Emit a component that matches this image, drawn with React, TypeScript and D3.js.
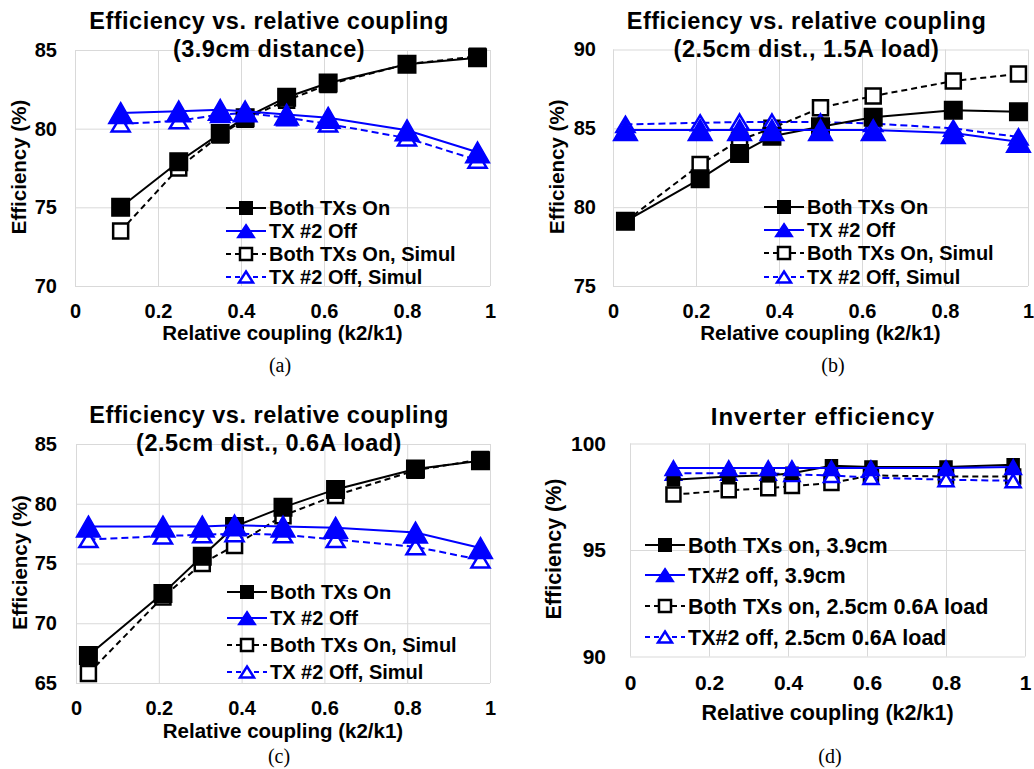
import React, { useEffect, useRef } from 'react';
import * as d3 from 'd3';

// relative coupling (k2/k1) of the measured points
const k39 = [0.11, 0.25, 0.35, 0.41, 0.51, 0.61, 0.8, 0.97];
const k25 = [0.03, 0.21, 0.305, 0.383, 0.5, 0.627, 0.82, 0.977];

// (a) 3.9cm distance
const aBothOn = [75.0, 77.9, 79.7, 80.7, 82.0, 82.9, 84.1, 84.5];
const aTx2Off = [81.0, 81.1, 81.2, 81.1, 80.9, 80.7, 79.9, 78.5];
const aBothOnSim = [73.5, 77.5, 79.6, 80.6, 81.8, 82.8, 84.1, 84.6];
const aTx2OffSim = [80.3, 80.5, 80.9, 81.0, 80.7, 80.3, 79.4, 78.0];

// (b) 2.5cm, 1.5A load
const bBothOn = [79.1, 81.8, 83.4, 84.5, 85.1, 85.7, 86.15, 86.05];
const bTx2Off = [84.9, 84.9, 84.9, 84.9, 84.9, 84.9, 84.7, 84.15];
const bBothOnSim = [79.1, 82.7, 84.25, 85.0, 86.3, 87.05, 88.0, 88.45];
const bTx2OffSim = [85.25, 85.35, 85.4, 85.4, 85.4, 85.3, 85.0, 84.45];

// (c) 2.5cm, 0.6A load
const cBothOn = [67.3, 72.5, 75.6, 78.1, 79.7, 81.2, 82.9, 83.6];
const cTx2Off = [78.1, 78.1, 78.1, 78.2, 78.1, 78.0, 77.6, 76.3];
const cBothOnSim = [65.8, 72.2, 75.0, 76.5, 79.0, 80.7, 82.8, 83.7];
const cTx2OffSim = [77.0, 77.3, 77.4, 77.5, 77.4, 77.0, 76.4, 75.3];

// (d) inverter efficiency
const dBothOn39 = [98.3, 98.45, 98.5, 98.6, 98.95, 98.9, 98.9, 99.0];
const dTx2Off39 = [98.85, 98.85, 98.85, 98.85, 98.85, 98.85, 98.85, 98.9];
const dBothOn25 = [97.6, 97.8, 97.9, 98.0, 98.15, 98.5, 98.45, 98.45];
const dTx2Off25 = [98.6, 98.6, 98.6, 98.55, 98.5, 98.4, 98.3, 98.25];

const xTicks = [0, 0.2, 0.4, 0.6, 0.8, 1];
const xTickLabels = ['0', '0.2', '0.4', '0.6', '0.8', '1'];
const aYTicks = [70, 75, 80, 85];
const bYTicks = [75, 80, 85, 90];
const cYTicks = [65, 70, 75, 80, 85];
const dYTicks = [90, 95, 100];

const titleA = ['Efficiency vs. relative coupling', '(3.9cm distance)'];
const titleB = ['Efficiency vs. relative coupling', '(2.5cm dist., 1.5A load)'];
const titleC = ['Efficiency vs. relative coupling', '(2.5cm dist., 0.6A load)'];
const titleD = ['Inverter efficiency'];
const legendMeasured = ['Both TXs On', 'TX #2 Off', 'Both TXs On, Simul', 'TX #2 Off, Simul'];
const legendInverter = [
  'Both TXs on, 3.9cm',
  'TX#2 off, 3.9cm',
  'Both TXs on, 2.5cm 0.6A load',
  'TX#2 off, 2.5cm 0.6A load',
];
const xTitle = 'Relative coupling (k2/k1)';
const yTitle = 'Efficiency (%)';

const FONT = '"Liberation Sans", Arial, sans-serif';
const BLUE = '#0000ff';

const seriesStyle = [
  { color: '#000', dash: null, shape: 'square', filled: true },
  { color: BLUE, dash: null, shape: 'triangle', filled: true },
  { color: '#000', dash: '6,4', shape: 'square', filled: false },
  { color: BLUE, dash: '7,4', shape: 'triangle', filled: false },
];

const bigMarkers = { fsq: 17.5, osq: 15, ftri: [24, 21], otri: [18, 15] };
const smallMarkers = { fsq: 12, osq: 14, ftri: [17, 15], otri: [15, 13] };
const legendMarkers = { fsq: 12.5, osq: 12, ftri: [17, 13], otri: [14, 11] };

const panels = [
  {
    left: 75, right: 490, top: 50, bottom: 286, yDomain: [70, 85], yTicks: aYTicks,
    k: k39, series: [aBothOn, aTx2Off, aBothOnSim, aTx2OffSim], order: [2, 3, 0, 1],
    title: titleA, titleX: 269, titleY: [29, 57], titleSize: 23.5, titleSpacing: 0.5,
    fs: 20, yPad: 18, xPad: 18, xTitleY: 340, yTitleX: 26,
    legend: legendMeasured, legendX: 226, legendRows: [208, 231, 254, 277], legendFs: 20,
    markers: bigMarkers, caption: '(a)', captionX: 280, captionY: 372,
  },
  {
    left: 613, right: 1028, top: 49.5, bottom: 286, yDomain: [75, 90], yTicks: bYTicks,
    k: k25, series: [bBothOn, bTx2Off, bBothOnSim, bTx2OffSim], order: [2, 3, 0, 1],
    title: titleB, titleX: 806.5, titleY: [29, 57], titleSize: 23.5, titleSpacing: 0.5,
    fs: 20, yPad: 17, xPad: 18, xTitleY: 340, yTitleX: 564,
    legend: legendMeasured, legendX: 764, legendRows: [207, 230, 253, 277], legendFs: 20,
    markers: bigMarkers, caption: '(b)', captionX: 833, captionY: 372,
  },
  {
    left: 76, right: 490, top: 444, bottom: 683, yDomain: [65, 85], yTicks: cYTicks,
    k: k25, series: [cBothOn, cTx2Off, cBothOnSim, cTx2OffSim], order: [2, 3, 0, 1],
    title: titleC, titleX: 269, titleY: [423, 451], titleSize: 23.5, titleSpacing: 0.5,
    fs: 20, yPad: 19, xPad: 18, xTitleY: 738, yTitleX: 27,
    legend: legendMeasured, legendX: 227, legendRows: [592, 618, 645, 672], legendFs: 20,
    markers: bigMarkers, caption: '(c)', captionX: 279, captionY: 763,
  },
  {
    left: 630, right: 1025, top: 443.5, bottom: 656.5, yDomain: [90, 100], yTicks: dYTicks,
    k: k39, series: [dBothOn39, dTx2Off39, dBothOn25, dTx2Off25], order: [2, 3, 0, 1],
    title: titleD, titleX: 823, titleY: [425], titleSize: 24, titleSpacing: 1,
    fs: 21, yPad: 24, xPad: 19, xTitleY: 720, yTitleX: 561,
    legend: legendInverter, legendX: 645, legendRows: [545, 575, 606, 637], legendFs: 21.5,
    markers: smallMarkers, caption: '(d)', captionX: 830, captionY: 763,
  },
];

const markerPath = (shape, filled, m) => {
  if (shape === 'square') {
    const s = filled ? m.fsq : m.osq;
    return `M${-s / 2},${-s / 2}h${s}v${s}h${-s}Z`;
  }
  const [w, h] = filled ? m.ftri : m.otri;
  return `M0,${-h / 2}L${w / 2},${h / 2}L${-w / 2},${h / 2}Z`;
};

const drawMarker = (g, x, y, style, m) => {
  g.append('path')
    .attr('transform', `translate(${x},${y})`)
    .attr('d', markerPath(style.shape, style.filled, m))
    .attr('fill', style.filled ? style.color : '#fff')
    .attr('stroke', style.color)
    .attr('stroke-width', style.filled ? 1.5 : 2.5)
    .attr('stroke-linejoin', 'miter');
};

const drawPanel = (svg, p) => {
  const g = svg.append('g');
  const x = d3.scaleLinear().domain([0, 1]).range([p.left, p.right]);
  const y = d3.scaleLinear().domain(p.yDomain).range([p.bottom, p.top]);

  // grid
  g.append('g')
    .attr('transform', `translate(0,${p.bottom})`)
    .call(d3.axisBottom(x).tickValues(xTicks).tickSize(-(p.bottom - p.top)).tickFormat(() => ''))
    .call(s => s.select('.domain').remove())
    .selectAll('line').attr('stroke', '#d9d9d9');
  g.append('g')
    .attr('transform', `translate(${p.left},0)`)
    .call(d3.axisLeft(y).tickValues(p.yTicks).tickSize(-(p.right - p.left)).tickFormat(() => ''))
    .call(s => s.select('.domain').remove())
    .selectAll('line').attr('stroke', '#d9d9d9');

  // tick labels
  g.append('g')
    .attr('transform', `translate(0,${p.bottom})`)
    .call(d3.axisBottom(x).tickValues(xTicks).tickSize(0).tickPadding(p.xPad)
      .tickFormat((d, i) => xTickLabels[i]))
    .call(s => s.select('.domain').remove())
    .selectAll('text')
    .attr('fill', '#000').attr('font-family', FONT).attr('font-weight', 'bold').attr('font-size', p.fs);
  g.append('g')
    .attr('transform', `translate(${p.left},0)`)
    .call(d3.axisLeft(y).tickValues(p.yTicks).tickSize(0).tickPadding(p.yPad).tickFormat(d3.format('d')))
    .call(s => s.select('.domain').remove())
    .selectAll('text')
    .attr('fill', '#000').attr('font-family', FONT).attr('font-weight', 'bold').attr('font-size', p.fs);

  // axis titles
  g.append('text')
    .attr('x', (p.left + p.right) / 2)
    .attr('y', p.xTitleY)
    .attr('text-anchor', 'middle')
    .attr('font-family', FONT).attr('font-weight', 'bold').attr('font-size', p.fs + 0.5)
    .text(xTitle);
  g.append('text')
    .attr('transform', `translate(${p.yTitleX},${(p.top + p.bottom) / 2 - 1}) rotate(-90)`)
    .attr('text-anchor', 'middle')
    .attr('font-family', FONT).attr('font-weight', 'bold').attr('font-size', p.fs + 0.5)
    .text(yTitle);

  // series
  p.order.forEach(i => {
    const style = seriesStyle[i];
    const pts = p.series[i].map((v, j) => [x(p.k[j]), y(v)]);
    g.append('path')
      .attr('d', d3.line()(pts))
      .attr('fill', 'none')
      .attr('stroke', style.color)
      .attr('stroke-width', 2)
      .attr('stroke-dasharray', style.dash);
    pts.forEach(([px, py]) => drawMarker(g, px, py, style, p.markers));
  });

  // legend
  p.legend.forEach((label, i) => {
    const style = seriesStyle[i];
    const ly = p.legendRows[i];
    g.append('line')
      .attr('x1', p.legendX).attr('x2', p.legendX + 40)
      .attr('y1', ly).attr('y2', ly)
      .attr('stroke', style.color)
      .attr('stroke-width', 2)
      .attr('stroke-dasharray', style.dash ? '5,4' : null);
    drawMarker(g, p.legendX + 20, ly, style, legendMarkers);
    g.append('text')
      .attr('x', p.legendX + 43)
      .attr('y', ly)
      .attr('dy', '0.36em')
      .attr('font-family', FONT).attr('font-weight', 'bold').attr('font-size', p.legendFs)
      .text(label);
  });

  // chart title
  p.title.forEach((line, i) => {
    g.append('text')
      .attr('x', p.titleX)
      .attr('y', p.titleY[i])
      .attr('text-anchor', 'middle')
      .attr('font-family', FONT).attr('font-weight', 'bold').attr('font-size', p.titleSize)
      .attr('letter-spacing', p.titleSpacing)
      .text(line);
  });

  // caption
  g.append('text')
    .attr('x', p.captionX)
    .attr('y', p.captionY)
    .attr('text-anchor', 'middle')
    .attr('font-family', '"Liberation Serif", "Times New Roman", serif')
    .attr('font-size', 20)
    .text(p.caption);
};

const App = () => {
  const svgRef = useRef(null);

  useEffect(() => {
    const svg = d3.select(svgRef.current);
    svg.selectAll('*').remove();
    panels.forEach(p => drawPanel(svg, p));
  }, []);

  return (
    <svg
      ref={svgRef}
      width={1034}
      height={769}
      style={{ position: 'absolute', left: 0, top: 0, background: '#fff' }}
    />
  );
};

export default App;
